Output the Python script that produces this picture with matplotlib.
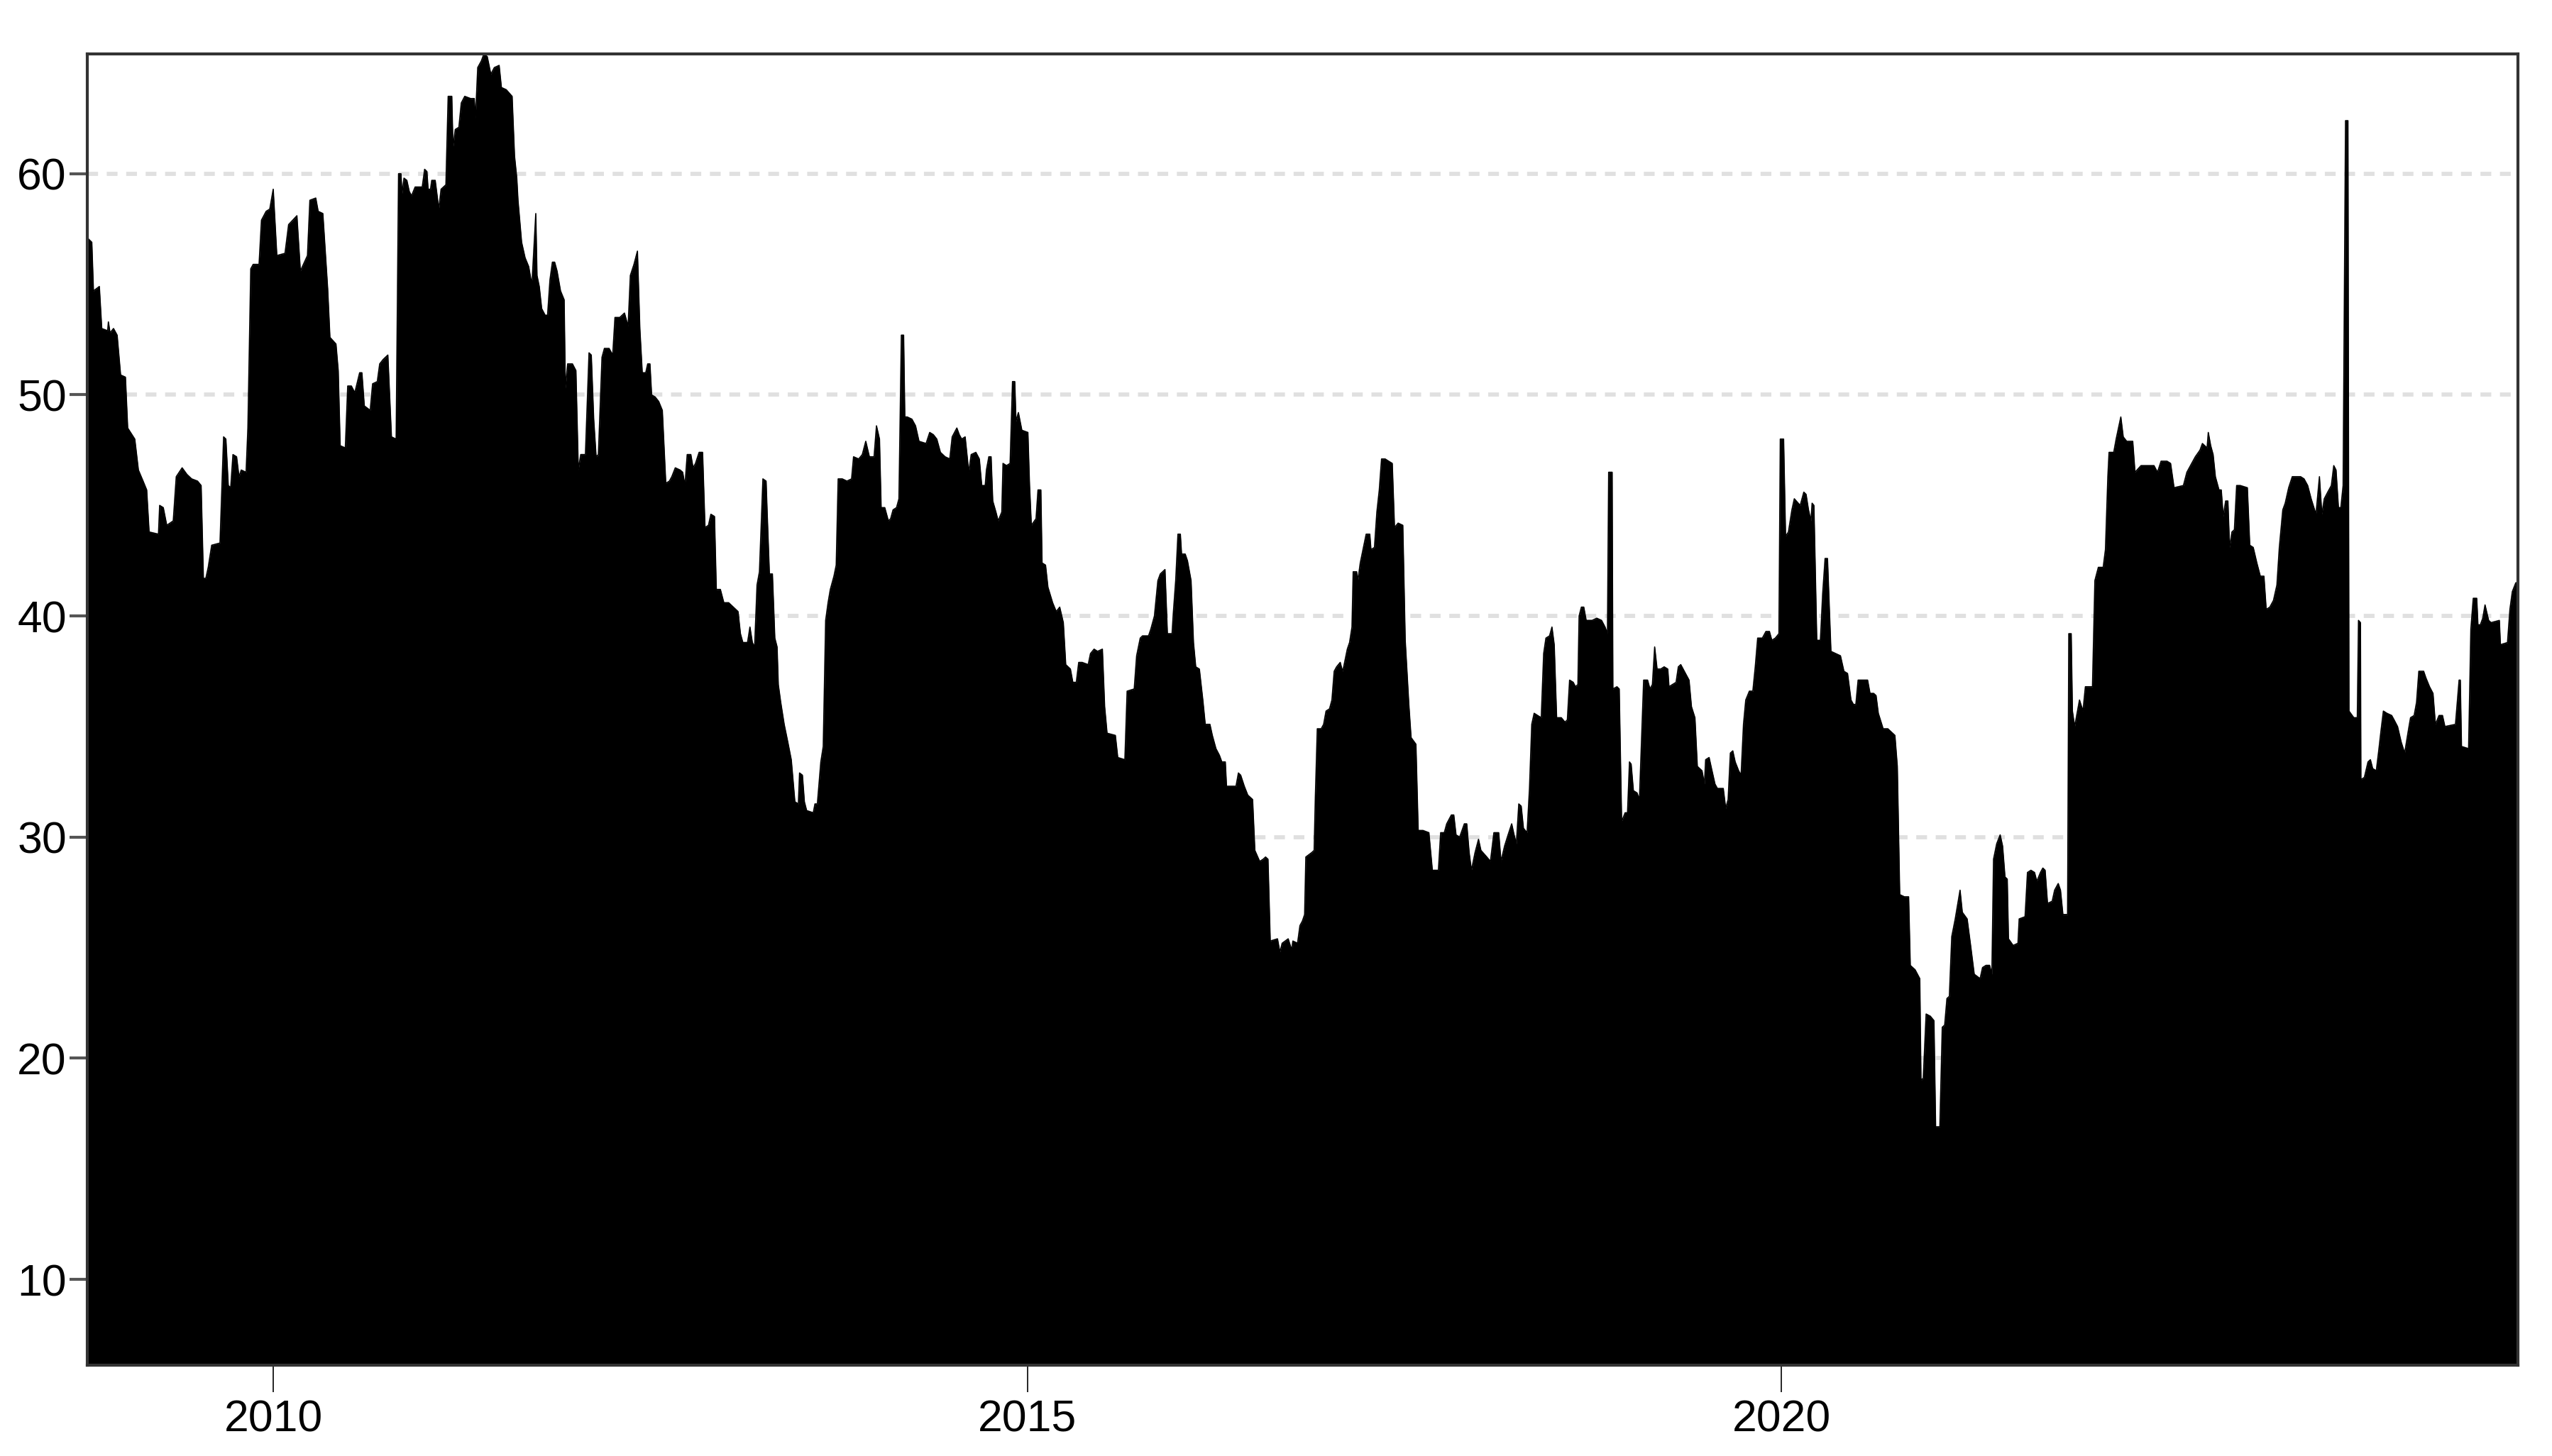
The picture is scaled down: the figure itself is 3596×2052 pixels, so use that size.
import matplotlib
matplotlib.use("Agg")
import matplotlib.pyplot as plt

# --- data: decimal year / level ---
date_2009 = [2008.767, 2008.797, 2008.808, 2008.847, 2008.863, 2008.902, 2008.907, 2008.918, 2008.941, 2008.965,
             2008.988, 2009.020, 2009.035, 2009.082, 2009.106, 2009.137, 2009.161, 2009.177, 2009.239, 2009.247,
             2009.271, 2009.294, 2009.337, 2009.357, 2009.396, 2009.428, 2009.459, 2009.498, 2009.522, 2009.537,
             2009.553, 2009.569, 2009.592, 2009.647, 2009.671, 2009.686, 2009.702, 2009.718, 2009.733, 2009.757,
             2009.773, 2009.788, 2009.820, 2009.832, 2009.851, 2009.867, 2009.906, 2009.922, 2009.953, 2009.977]
level_2009 = [57.1, 56.9, 54.7, 54.9, 53.0, 52.9, 53.3, 52.8, 53.0, 52.7,
              50.9, 50.8, 48.5, 48.0, 46.6, 46.1, 45.7, 43.8, 43.7, 45.0,
              44.9, 44.1, 44.3, 46.3, 46.7, 46.4, 46.2, 46.1, 45.9, 41.7,
              41.7, 42.2, 43.2, 43.3, 48.1, 48.0, 45.9, 45.8, 47.3, 47.2,
              46.3, 46.6, 46.5, 48.5, 55.7, 55.9, 55.9, 57.9, 58.3, 58.4]

date_2010 = [2010.000, 2010.024, 2010.078, 2010.102, 2010.157, 2010.180, 2010.227, 2010.243, 2010.282, 2010.298,
             2010.329, 2010.361, 2010.376, 2010.416, 2010.431, 2010.444, 2010.478, 2010.494, 2010.518, 2010.541,
             2010.573, 2010.588, 2010.604, 2010.643, 2010.659, 2010.690, 2010.706, 2010.729, 2010.760, 2010.784,
             2010.815, 2010.831, 2010.847, 2010.854, 2010.867, 2010.886, 2010.902, 2010.917, 2010.941, 2010.988]
level_2010 = [59.3, 56.3, 56.4, 57.7, 58.1, 55.6, 56.3, 58.8, 58.9, 58.3,
              58.2, 54.8, 52.6, 52.3, 51.1, 47.7, 47.6, 50.4, 50.4, 50.1,
              51.0, 51.0, 49.5, 49.3, 50.5, 50.6, 51.4, 51.6, 51.8, 48.1,
              48.0, 60.0, 60.0, 59.1, 59.8, 59.7, 59.2, 59.0, 59.4, 59.4]

date_2011 = [2011.004, 2011.019, 2011.027, 2011.043, 2011.051, 2011.074, 2011.098, 2011.113, 2011.145, 2011.160,
             2011.184, 2011.192, 2011.207, 2011.231, 2011.247, 2011.270, 2011.309, 2011.333, 2011.341, 2011.356,
             2011.380, 2011.396, 2011.419, 2011.443, 2011.466, 2011.498, 2011.513, 2011.545, 2011.584, 2011.600,
             2011.615, 2011.623, 2011.647, 2011.670, 2011.694, 2011.709, 2011.717, 2011.741, 2011.749, 2011.764,
             2011.780, 2011.803, 2011.819, 2011.835, 2011.851, 2011.866, 2011.882, 2011.905, 2011.929, 2011.937,
             2011.952, 2011.984]
level_2011 = [60.2, 60.1, 59.3, 59.3, 59.7, 59.7, 58.4, 59.3, 59.5, 63.5,
              63.5, 61.2, 62.0, 62.1, 63.2, 63.5, 63.4, 63.4, 62.5, 64.8,
              65.1, 65.4, 65.3, 64.5, 64.8, 64.9, 63.9, 63.8, 63.5, 60.8,
              59.8, 58.8, 56.9, 56.2, 55.8, 55.2, 55.2, 58.2, 55.4, 54.9,
              53.9, 53.6, 53.6, 55.2, 56.0, 56.0, 55.6, 54.7, 54.3, 50.3,
              51.4, 51.4]

date_2012 = [2012.007, 2012.023, 2012.039, 2012.070, 2012.094, 2012.109, 2012.125, 2012.141, 2012.156, 2012.180,
             2012.196, 2012.227, 2012.251, 2012.266, 2012.298, 2012.329, 2012.353, 2012.368, 2012.392, 2012.415,
             2012.431, 2012.447, 2012.470, 2012.483, 2012.498, 2012.509, 2012.533, 2012.556, 2012.580, 2012.603,
             2012.627, 2012.643, 2012.666, 2012.698, 2012.715, 2012.730, 2012.745, 2012.769, 2012.784, 2012.800,
             2012.824, 2012.847, 2012.863, 2012.886, 2012.902, 2012.926, 2012.938, 2012.965, 2012.988]
level_2012 = [51.1, 46.6, 47.3, 47.3, 51.9, 51.8, 48.9, 47.2, 47.3, 51.7,
              52.1, 52.1, 51.8, 53.5, 53.5, 53.7, 53.1, 55.4, 55.9, 56.5,
              53.0, 51.0, 51.0, 51.4, 51.4, 50.0, 49.9, 49.7, 49.3, 46.0,
              46.1, 46.3, 46.7, 46.6, 46.5, 45.9, 47.3, 47.3, 46.7, 46.9,
              47.4, 47.4, 44.0, 44.1, 44.6, 44.5, 41.2, 41.2, 40.6]

date_2013 = [2013.020, 2013.051, 2013.082, 2013.098, 2013.114, 2013.145, 2013.161, 2013.177, 2013.192, 2013.208,
             2013.224, 2013.247, 2013.268, 2013.274, 2013.290, 2013.310, 2013.326, 2013.341, 2013.349, 2013.365,
             2013.388, 2013.412, 2013.435, 2013.459, 2013.482, 2013.490, 2013.509, 2013.522, 2013.537, 2013.581,
             2013.592, 2013.608, 2013.631, 2013.647, 2013.663, 2013.679, 2013.694, 2013.718, 2013.733, 2013.746,
             2013.773, 2013.804, 2013.835, 2013.848, 2013.882, 2013.906, 2013.929, 2013.953, 2013.984]
level_2013 = [40.6, 40.4, 40.2, 39.2, 38.8, 38.8, 39.5, 38.8, 38.6, 41.4,
              42.0, 46.2, 46.1, 44.9, 41.9, 41.9, 39.0, 38.6, 36.9, 36.1,
              35.1, 34.3, 33.5, 31.6, 31.5, 32.9, 32.8, 31.6, 31.2, 31.1,
              31.5, 31.5, 33.4, 34.1, 39.8, 40.6, 41.2, 41.8, 42.3, 46.2,
              46.2, 46.1, 46.2, 47.2, 47.1, 47.3, 47.9, 47.2, 47.2]

date_2014 = [2014.000, 2014.020, 2014.031, 2014.055, 2014.079, 2014.094, 2014.110, 2014.133, 2014.149, 2014.165,
             2014.180, 2014.188, 2014.204, 2014.235, 2014.259, 2014.282, 2014.329, 2014.353, 2014.377, 2014.400,
             2014.424, 2014.455, 2014.486, 2014.502, 2014.533, 2014.549, 2014.565, 2014.588, 2014.612, 2014.628,
             2014.659, 2014.682, 2014.698, 2014.721, 2014.729, 2014.745, 2014.760, 2014.771, 2014.792, 2014.807,
             2014.831, 2014.839, 2014.862, 2014.886, 2014.902, 2014.917, 2014.925, 2014.941, 2014.964]
level_2014 = [48.6, 48.0, 44.9, 44.9, 44.3, 44.4, 44.8, 44.9, 45.3, 52.7,
              52.7, 49.0, 49.0, 48.9, 48.6, 47.9, 47.8, 48.3, 48.2, 48.0,
              47.4, 47.2, 47.1, 48.1, 48.5, 48.2, 48.0, 48.1, 46.5, 47.3,
              47.4, 47.1, 45.9, 45.9, 46.6, 47.2, 47.2, 45.2, 44.7, 44.3,
              44.7, 46.9, 46.8, 46.9, 50.6, 50.6, 48.8, 49.2, 48.4]

date_2015 = [2015.004, 2015.015, 2015.027, 2015.058, 2015.071, 2015.090, 2015.098, 2015.121, 2015.137, 2015.168,
             2015.192, 2015.215, 2015.239, 2015.255, 2015.286, 2015.302, 2015.325, 2015.341, 2015.364, 2015.404,
             2015.419, 2015.443, 2015.466, 2015.498, 2015.513, 2015.529, 2015.584, 2015.600, 2015.647, 2015.662,
             2015.709, 2015.725, 2015.749, 2015.764, 2015.804, 2015.819, 2015.843, 2015.866, 2015.882, 2015.913,
             2015.929, 2015.960, 2015.968, 2015.984, 2015.999]
level_2015 = [48.3, 45.9, 44.1, 44.4, 45.7, 45.7, 42.4, 42.3, 41.3, 40.6,
              40.2, 40.4, 39.7, 37.8, 37.6, 37.0, 37.0, 37.9, 37.9, 37.8,
              38.3, 38.5, 38.4, 38.5, 35.9, 34.7, 34.6, 33.6, 33.5, 36.6,
              36.7, 38.2, 39.0, 39.1, 39.1, 39.4, 40.0, 41.6, 41.9, 42.1,
              39.2, 39.2, 40.1, 41.6, 43.7]

date_2016 = [2016.015, 2016.023, 2016.047, 2016.062, 2016.086, 2016.102, 2016.117, 2016.141, 2016.164, 2016.180,
             2016.211, 2016.227, 2016.251, 2016.274, 2016.290, 2016.313, 2016.321, 2016.384, 2016.400, 2016.415,
             2016.439, 2016.462, 2016.494, 2016.509, 2016.541, 2016.564, 2016.580, 2016.596, 2016.611, 2016.659,
             2016.675, 2016.690, 2016.730, 2016.753, 2016.761, 2016.792, 2016.808, 2016.824, 2016.839, 2016.847,
             2016.886, 2016.902, 2016.910, 2016.923, 2016.949, 2016.965, 2016.981]
level_2016 = [43.7, 42.8, 42.8, 42.5, 41.6, 38.8, 37.7, 37.6, 36.2, 35.1,
              35.1, 34.6, 34.0, 33.7, 33.4, 33.4, 32.3, 32.3, 32.9, 32.8,
              32.3, 31.9, 31.7, 29.4, 28.9, 29.0, 29.1, 29.0, 25.3, 25.4,
              24.8, 25.2, 25.4, 24.9, 25.3, 25.2, 26.0, 26.2, 26.5, 29.1,
              29.3, 29.4, 31.8, 34.9, 34.9, 35.1, 35.7]

date_2017 = [2017.004, 2017.020, 2017.035, 2017.051, 2017.075, 2017.090, 2017.098, 2017.122, 2017.137, 2017.153,
             2017.161, 2017.184, 2017.192, 2017.208, 2017.232, 2017.247, 2017.271, 2017.279, 2017.302, 2017.318,
             2017.334, 2017.349, 2017.373, 2017.396, 2017.420, 2017.435, 2017.459, 2017.490, 2017.506, 2017.530,
             2017.545, 2017.577, 2017.592, 2017.624, 2017.663, 2017.686, 2017.726, 2017.741, 2017.765, 2017.781,
             2017.812, 2017.828, 2017.843, 2017.867, 2017.898, 2017.914, 2017.930, 2017.945, 2017.969, 2017.992]
level_2017 = [35.8, 36.2, 37.5, 37.7, 37.9, 37.5, 37.7, 38.5, 38.8, 39.5,
              42.0, 42.0, 41.6, 42.4, 43.2, 43.7, 43.7, 43.0, 43.1, 44.7,
              45.7, 47.1, 47.1, 47.0, 46.9, 44.0, 44.2, 44.1, 38.9, 36.0,
              34.5, 34.2, 30.3, 30.3, 30.2, 28.5, 28.5, 30.2, 30.2, 30.6,
              31.0, 31.0, 30.1, 30.0, 30.6, 30.6, 29.3, 28.5, 29.3, 29.9]

date_2018 = [2018.008, 2018.047, 2018.071, 2018.094, 2018.126, 2018.141, 2018.165, 2018.188, 2018.212, 2018.228,
             2018.243, 2018.259, 2018.275, 2018.290, 2018.314, 2018.330, 2018.345, 2018.361, 2018.384, 2018.408,
             2018.424, 2018.439, 2018.463, 2018.479, 2018.494, 2018.510, 2018.541, 2018.565, 2018.581, 2018.596,
             2018.620, 2018.635, 2018.651, 2018.659, 2018.674, 2018.690, 2018.706, 2018.745, 2018.776, 2018.808,
             2018.831, 2018.847, 2018.855, 2018.878, 2018.883, 2018.910, 2018.925, 2018.941, 2018.964, 2018.980,
             2018.993]
level_2018 = [29.4, 29.1, 28.9, 30.2, 30.2, 28.9, 29.6, 30.1, 30.6, 30.1,
              29.7, 31.5, 31.4, 30.4, 30.2, 32.2, 35.1, 35.6, 35.5, 35.4,
              38.3, 39.0, 39.1, 39.5, 38.7, 35.4, 35.4, 35.2, 35.3, 37.1,
              37.0, 36.8, 36.9, 40.0, 40.4, 40.4, 39.8, 39.8, 39.9, 39.8,
              39.5, 39.2, 46.5, 46.5, 36.7, 36.8, 36.7, 30.7, 31.1, 31.1,
              33.4]

date_2019 = [2019.004, 2019.019, 2019.043, 2019.059, 2019.074, 2019.087, 2019.113, 2019.129, 2019.145, 2019.160,
             2019.176, 2019.200, 2019.223, 2019.247, 2019.255, 2019.278, 2019.302, 2019.317, 2019.333, 2019.372,
             2019.388, 2019.404, 2019.427, 2019.443, 2019.474, 2019.490, 2019.498, 2019.521, 2019.537, 2019.560,
             2019.576, 2019.615, 2019.631, 2019.647, 2019.662, 2019.678, 2019.694, 2019.717, 2019.733, 2019.749,
             2019.764, 2019.788, 2019.811, 2019.827, 2019.843, 2019.874, 2019.898, 2019.921, 2019.937, 2019.960,
             2019.984, 2019.993]
level_2019 = [33.3, 32.1, 32.0, 31.7, 34.6, 37.1, 37.1, 36.7, 36.9, 38.6,
              37.6, 37.6, 37.7, 37.6, 36.8, 36.9, 37.0, 37.7, 37.8, 37.3,
              37.1, 35.9, 35.4, 33.2, 33.0, 32.4, 33.5, 33.6, 33.1, 32.4,
              32.2, 32.2, 31.3, 31.7, 33.8, 33.9, 33.4, 33.0, 32.8, 35.1,
              36.2, 36.6, 36.6, 37.7, 39.0, 39.0, 39.3, 39.3, 38.9, 39.0,
              39.2, 48.0]

date_2020 = [2020.015, 2020.028, 2020.047, 2020.070, 2020.086, 2020.125, 2020.149, 2020.164, 2020.180, 2020.196,
             2020.204, 2020.216, 2020.227, 2020.235, 2020.259, 2020.274, 2020.290, 2020.306, 2020.321, 2020.329,
             2020.361, 2020.392, 2020.415, 2020.439, 2020.462, 2020.478, 2020.494, 2020.509, 2020.541, 2020.572,
             2020.588, 2020.612, 2020.628, 2020.643, 2020.675, 2020.706, 2020.753, 2020.769, 2020.785, 2020.816,
             2020.844, 2020.855, 2020.887, 2020.918, 2020.926, 2020.941, 2020.960, 2020.988]
level_2020 = [48.0, 43.6, 43.8, 44.8, 45.3, 45.0, 45.6, 45.5, 44.8, 44.3,
              45.1, 45.0, 41.5, 38.9, 38.9, 41.0, 42.6, 42.6, 39.8, 38.4,
              38.3, 38.2, 37.5, 37.4, 36.2, 36.0, 36.0, 37.1, 37.1, 37.1,
              36.5, 36.5, 36.4, 35.6, 34.9, 34.9, 34.6, 33.2, 27.4, 27.3,
              27.3, 24.2, 24.0, 23.6, 19.0, 19.1, 22.0, 21.9]

date_2021 = [2021.012, 2021.023, 2021.051, 2021.067, 2021.083, 2021.098, 2021.114, 2021.130, 2021.153, 2021.185,
             2021.200, 2021.232, 2021.255, 2021.279, 2021.318, 2021.334, 2021.357, 2021.381, 2021.396, 2021.407,
             2021.428, 2021.451, 2021.467, 2021.483, 2021.498, 2021.506, 2021.537, 2021.569, 2021.577, 2021.616,
             2021.632, 2021.655, 2021.679, 2021.694, 2021.718, 2021.734, 2021.749, 2021.765, 2021.796, 2021.812,
             2021.836, 2021.851, 2021.867, 2021.898, 2021.906, 2021.922, 2021.930, 2021.945, 2021.961, 2021.977]
level_2021 = [21.7, 16.9, 16.9, 21.4, 21.5, 22.7, 22.8, 25.5, 26.3, 27.6,
              26.6, 26.3, 25.1, 23.8, 23.6, 24.1, 24.2, 24.2, 23.8, 29.0,
              29.7, 30.1, 29.6, 28.2, 28.1, 25.4, 25.1, 25.2, 26.3, 26.4,
              28.4, 28.5, 28.4, 28.0, 28.4, 28.6, 28.5, 27.0, 27.1, 27.6,
              27.9, 27.6, 26.5, 26.5, 39.2, 39.2, 35.7, 35.0, 35.6, 36.2]

date_2022 = [2022.000, 2022.016, 2022.063, 2022.079, 2022.102, 2022.134, 2022.149, 2022.165, 2022.173, 2022.204,
             2022.220, 2022.251, 2022.267, 2022.290, 2022.330, 2022.345, 2022.385, 2022.432, 2022.471, 2022.494,
             2022.518, 2022.557, 2022.581, 2022.604, 2022.666, 2022.689, 2022.713, 2022.745, 2022.776, 2022.792,
             2022.823, 2022.831, 2022.847, 2022.863, 2022.878, 2022.902, 2022.917, 2022.930, 2022.946, 2022.961,
             2022.972, 2022.988]
level_2022 = [35.7, 36.8, 36.8, 41.6, 42.2, 42.2, 43.0, 46.3, 47.4, 47.4,
              48.0, 49.0, 48.1, 47.9, 47.9, 46.5, 46.8, 46.8, 46.8, 46.5,
              47.0, 47.0, 46.9, 45.8, 45.9, 46.5, 46.8, 47.2, 47.5, 47.8,
              47.6, 48.3, 47.7, 47.3, 46.3, 45.7, 45.7, 44.5, 45.2, 45.2,
              43.1, 43.8]

date_2023 = [2023.004, 2023.019, 2023.043, 2023.090, 2023.106, 2023.129, 2023.153, 2023.176, 2023.200, 2023.215,
             2023.239, 2023.263, 2023.286, 2023.302, 2023.325, 2023.341, 2023.364, 2023.388, 2023.443, 2023.466,
             2023.490, 2023.513, 2023.545, 2023.568, 2023.584, 2023.600, 2023.623, 2023.647, 2023.663, 2023.678,
             2023.694, 2023.710, 2023.725, 2023.741, 2023.757, 2023.764, 2023.796, 2023.819, 2023.827, 2023.840,
             2023.843, 2023.866, 2023.890, 2023.906, 2023.921, 2023.945, 2023.961, 2023.976, 2023.992]
level_2023 = [43.9, 45.9, 45.9, 45.8, 43.2, 43.1, 42.4, 41.8, 41.8, 40.3,
              40.4, 40.7, 41.4, 43.1, 44.8, 45.1, 45.8, 46.3, 46.3, 46.2,
              45.9, 45.3, 44.6, 46.3, 44.6, 45.3, 45.6, 45.9, 46.8, 46.6,
              44.9, 44.9, 45.9, 62.4, 62.4, 35.7, 35.4, 35.4, 39.8, 39.7,
              32.6, 32.7, 33.4, 33.5, 33.1, 33.0, 33.9, 34.8, 35.7]

date_2024 = [2024.015, 2024.047, 2024.063, 2024.086, 2024.110, 2024.133, 2024.157, 2024.172, 2024.196, 2024.212,
             2024.227, 2024.259, 2024.274, 2024.298, 2024.321, 2024.337, 2024.361, 2024.384, 2024.400, 2024.470,
             2024.494, 2024.502, 2024.510, 2024.557, 2024.572, 2024.588, 2024.611, 2024.619, 2024.635, 2024.651,
             2024.666, 2024.690, 2024.706, 2024.761, 2024.768, 2024.815, 2024.831, 2024.847, 2024.870, 2024.886]
level_2024 = [35.6, 35.5, 35.3, 35.0, 34.3, 33.8, 34.8, 35.4, 35.5, 36.1,
              37.5, 37.5, 37.2, 36.8, 36.5, 35.1, 35.5, 35.5, 35.0, 35.1,
              37.1, 37.1, 34.1, 34.0, 39.4, 40.8, 40.8, 39.6, 39.6, 39.9,
              40.5, 39.8, 39.7, 39.8, 38.7, 38.8, 40.3, 41.1, 41.5, 41.5]

year_ticks = [2010, 2015, 2020]
level_ticks = [10, 20, 30, 40, 50, 60]

dates = (date_2009 + date_2010 + date_2011 + date_2012 + date_2013 + date_2014 + date_2015 + date_2016
         + date_2017 + date_2018 + date_2019 + date_2020 + date_2021 + date_2022 + date_2023 + date_2024)
levels = (level_2009 + level_2010 + level_2011 + level_2012 + level_2013 + level_2014 + level_2015 + level_2016
          + level_2017 + level_2018 + level_2019 + level_2020 + level_2021 + level_2022 + level_2023 + level_2024)

# narrow sans like the original; the first installed family in the list wins
plt.rcParams["font.family"] = ["Liberation Sans Narrow", "DejaVu Sans Condensed", "Liberation Sans", "DejaVu Sans"]
plt.rcParams["font.stretch"] = "condensed"

fig = plt.figure(figsize=(3596 / 300, 2052 / 300), dpi=300)
ax = fig.add_axes([0.0342, 0.0624, 0.9525, 0.9006])

ax.fill_between(dates, levels, 0, color="black", linewidth=0, zorder=2)
ax.plot(dates, levels, color="black", linewidth=0.4, zorder=2)

ax.set_xlim(2008.767, 2024.885)
ax.set_ylim(6.12, 65.42)

ax.set_yticks(level_ticks)
ax.set_xticks(year_ticks)
ax.set_xticklabels([str(t) for t in year_ticks])
ax.grid(axis="y", color="#e0e0e0", linewidth=1.4, linestyle=(0, (2.6, 2.1)), zorder=1)
ax.set_axisbelow(True)

ax.tick_params(axis="y", direction="out", length=6, width=1.0, color="#555555", pad=1,
               labelsize=15, labelcolor="black")
ax.tick_params(axis="x", direction="out", length=9, width=0.4, color="black", pad=2.5,
               labelsize=15, labelcolor="black")

for side in ["left", "right", "top", "bottom"]:
    ax.spines[side].set_color("#333333")
    ax.spines[side].set_linewidth(1.0)
    ax.spines[side].set_zorder(3)

fig.savefig("out.png", dpi=300, facecolor="white")
